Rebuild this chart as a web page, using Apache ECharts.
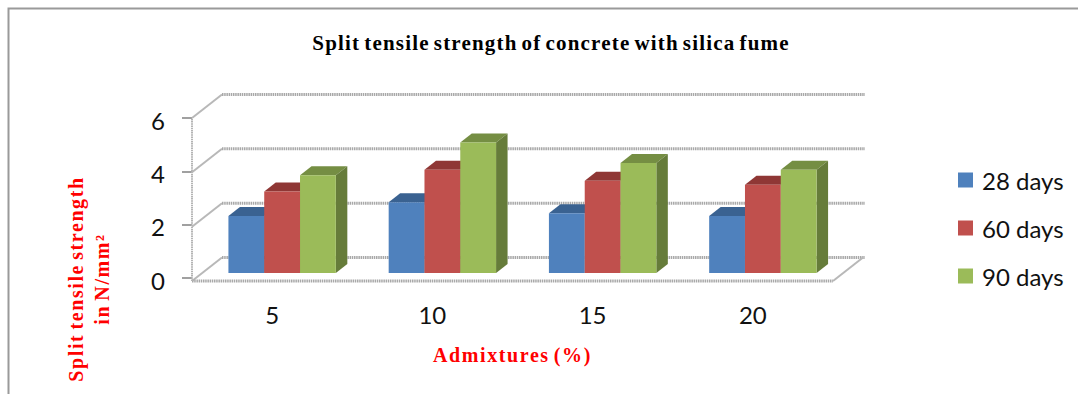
<!DOCTYPE html>
<html>
<head>
<meta charset="utf-8">
<style>
html,body{margin:0;padding:0;background:#fff}
#c{width:1078px;height:394px}
#c text[style*="Liberation Serif"]{letter-spacing:1.6px;word-spacing:-2.5px}
#c text[style*="21px"]{letter-spacing:1.2px}
</style>
<script src="https://cdn.jsdelivr.net/npm/echarts@6/dist/echarts.min.js"></script>
</head>
<body>
<div id="c"></div>
<script>
// Split tensile strength readings, N/mm2
const categories = ['5', '10', '15', '20'];
const days28 = [2.1, 2.6, 2.2, 2.1];
const days60 = [3.0, 3.8, 3.4, 3.25];
const days90 = [3.6, 4.8, 4.05, 3.8];
const seriesNames = ['28 days', '60 days', '90 days'];
const yTicks = [0, 2, 4, 6];

// Fake-3D projection, in pixels
const WALL_DX = 30, WALL_DY = -23.5;   // floor front edge to back wall
const BAR_DX = 10, BAR_DY = -8;        // floor front edge to bar front face
const BAR_W = 35.8;
const SIDE_DX = 11.5, SIDE_DY = -9;    // bar depth

const palette = [
  { front: '#4F81BD', top: '#3A6291', side: '#375C8A' },
  { front: '#C0504D', top: '#8F3735', side: '#853331' },
  { front: '#9BBB59', top: '#758E43', side: '#667C3A' }
];
const LINE = '#A8A8A8';
const SANS = 'Lato, "Open Sans", sans-serif';
const SERIF = '"Liberation Serif", serif';

function barRenderer(slot) {
  return function (params, api) {
    const base = api.coord([api.value(0), 0]);
    const top = api.coord([api.value(0), api.value(1)]);
    const c = palette[slot];
    const x0 = base[0] + BAR_DX + (slot - 1.5) * BAR_W;
    const x1 = x0 + BAR_W;
    const yb = base[1] + BAR_DY;
    const yt = top[1] + BAR_DY;
    const poly = (pts, fill) => ({ type: 'polygon', shape: { points: pts }, style: { fill: fill } });
    return {
      type: 'group',
      children: [
        poly([[x0, yt], [x1, yt], [x1 + SIDE_DX, yt + SIDE_DY], [x0 + SIDE_DX, yt + SIDE_DY]], c.top),
        poly([[x1, yt], [x1 + SIDE_DX, yt + SIDE_DY], [x1 + SIDE_DX, yb + SIDE_DY], [x1, yb]], c.side),
        { type: 'rect', shape: { x: x0, y: yt, width: BAR_W, height: yb - yt }, style: { fill: c.front } }
      ]
    };
  };
}

// Back wall gridlines, their slanted returns and the floor outline
function wallRenderer(params, api) {
  const v = api.value(0);
  const size = params.coordSys;
  const left = size.x, right = size.x + size.width;
  const y = api.coord([0, v])[1];
  const line = (pts, w, dash, color) => ({
    type: 'polyline', shape: { points: pts },
    style: { stroke: color || LINE, lineWidth: w, fill: null, lineDash: dash }
  });
  const kids = [
    line([[left, y], [left + WALL_DX, y + WALL_DY]], 2, null, '#B8B8B8'),
    line([[left + WALL_DX, y + WALL_DY], [right + WALL_DX + 2, y + WALL_DY]], 3, [1.5, 0.7])
  ];
  if (v === yTicks[0]) {
    kids.push(line([[left, y], [right, y]], 3, [1.5, 0.7]));
    kids.push(line([[right, y], [right + WALL_DX, y + WALL_DY]], 2, null, '#B8B8B8'));
    kids.push(line([[left, y], [left, size.y]], 2, [1.5, 0.7], '#B4B4B4'));
  }
  return { type: 'group', children: kids };
}

const valueRows = [days28, days60, days90];
const barSeries = seriesNames.map((name, i) => ({
  name: name,
  type: 'custom',
  xAxisIndex: 1,
  yAxisIndex: 1,
  clip: false,
  z: 3 + i,
  itemStyle: { color: palette[i].front },
  renderItem: barRenderer(i),
  encode: { x: 0, y: 1 },
  data: categories.map((_, k) => [k, valueRows[i][k]])
}));

const chart = echarts.init(document.getElementById('c'), null, { renderer: 'svg' });
chart.setOption({
  animation: false,
  backgroundColor: '#fff',
  title: {
    text: 'Split tensile strength of concrete with silica fume',
    left: 546, top: 27, textAlign: 'center',
    textStyle: { fontFamily: SERIF, fontWeight: 'bold', fontSize: 21, color: '#000' }
  },
  legend: {
    orient: 'vertical', left: 953, top: 163,
    icon: 'rect', itemWidth: 15, itemHeight: 15, itemGap: 24, itemStyle: { borderWidth: 0 },
    data: seriesNames,
    textStyle: { fontFamily: SANS, fontSize: 24, color: '#111', padding: [0, 0, 0, 4] }
  },
  grid: [
    { left: 192, top: 118, width: 641, height: 160 },   // tick labels
    { left: 192, top: 118, width: 641, height: 163 }    // walls and bars
  ],
  xAxis: [
    { gridIndex: 0, type: 'category', data: categories, show: false },
    {
      gridIndex: 1, type: 'category', data: categories,
      axisLine: { show: false }, axisTick: { show: false },
      axisLabel: { margin: 21, fontFamily: SANS, fontSize: 24, color: '#111' },
      name: 'Admixtures (%)', nameLocation: 'middle', nameGap: 64,
      nameTextStyle: { fontFamily: SERIF, fontWeight: 'bold', fontSize: 20, color: '#FF0000' }
    }
  ],
  yAxis: [
    {
      gridIndex: 0, type: 'value', min: 0, max: 6, interval: 2,
      axisLine: { show: false },
      axisTick: { show: true, length: 10, lineStyle: { color: '#808080', width: 1.5 } },
      splitLine: { show: false },
      axisLabel: { margin: 27, verticalAlign: 'top', lineHeight: 4, fontFamily: SANS, fontSize: 24, color: '#111' }
    },
    { gridIndex: 1, type: 'value', min: 0, max: 6, interval: 2, show: false }
  ],
  series: [
    {
      type: 'custom', xAxisIndex: 1, yAxisIndex: 1, clip: false, z: 1,
      renderItem: wallRenderer, silent: true,
      encode: { y: 0 },
      data: yTicks.map(v => [v])
    }
  ].concat(barSeries),
  graphic: [
    {
      type: 'polyline', z: 0, silent: true,
      shape: { points: [[8.5, 394], [8.5, 8.5], [1078, 8.5]] },
      style: { stroke: '#9A9A9A', lineWidth: 2, fill: null }
    },
    {
      type: 'text', silent: true,
      x: 89, y: 279, rotation: Math.PI / 2,
      style: {
        text: 'Split tensile strength\nin N/mm\u00B2',
        fontFamily: SERIF, fontWeight: 'bold', fontSize: 20, lineHeight: 26,
        fill: '#FF0000', align: 'center', verticalAlign: 'middle'
      }
    }
  ]
});
</script>
</body>
</html>
